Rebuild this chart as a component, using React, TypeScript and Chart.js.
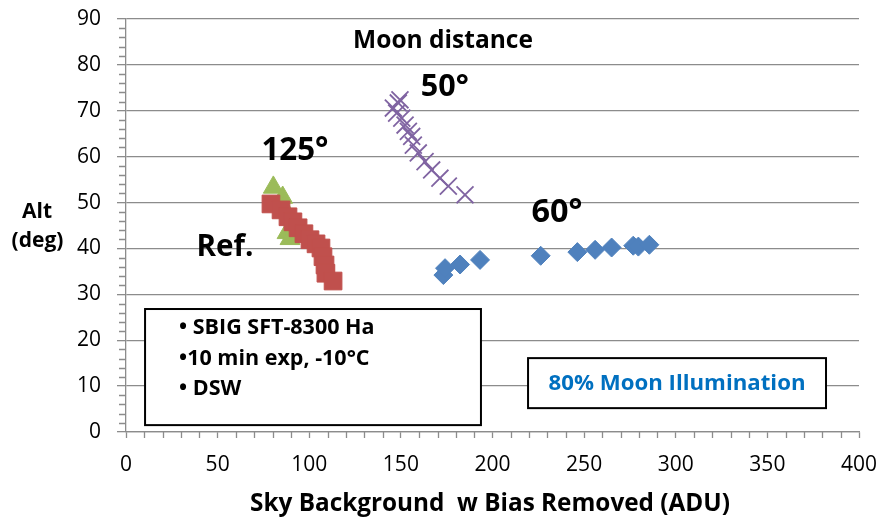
import React, { useEffect, useRef } from 'react';
import { Chart, registerables } from 'chart.js';

Chart.register(...registerables);

// ---- Data ----
const moon60X = [173.2, 174.1, 182.3, 193.2, 226.3, 246.3, 256.0, 265.0, 276.8, 279.6, 285.6];
const moon60Y = [34.2, 35.7, 36.5, 37.5, 38.4, 39.2, 39.7, 40.2, 40.6, 40.4, 40.8];

const moon50X = [185.0, 175.9, 171.3, 166.8, 163.2, 159.5, 156.8, 155.9, 154.1, 152.3, 150.5, 147.7, 145.9, 148.6, 149.5];
const moon50Y = [51.7, 53.6, 55.3, 57.1, 58.9, 60.8, 62.5, 64.4, 65.5, 66.9, 68.4, 69.5, 70.6, 71.7, 72.4];

const refX = [79.1, 84.6, 88.4, 91.1, 93.9, 97.1, 100.4, 103.7, 106.4, 107.5, 108.6, 109.1, 113.0];
const refY = [49.7, 48.4, 46.9, 45.8, 44.5, 43.2, 41.9, 41.0, 40.1, 38.2, 36.4, 34.6, 32.9];

const moon125X = [80.4, 85.5, 86.2, 87.9, 89.5];
const moon125Y = [53.3, 51.1, 48.9, 43.4, 42.1];

const xMin = 0, xMax = 400, xStep = 50, xMinorStep = 10;
const yMin = 0, yMax = 90, yStep = 10, yMinorStep = 2;

const xTitle = 'Sky Background  w Bias Removed (ADU)';
const yTitleLines = ['Alt', '(deg)'];

const notesLines = ['• SBIG SFT-8300 Ha', '•10 min exp, -10°C', '• DSW'];
const illumText = '80% Moon Illumination';

const FONT = '"Open Sans", Lato, sans-serif';
const GRID = '#8c8c8c';

const toPts = (xs: number[], ys: number[]) => xs.map((x, i) => ({ x, y: ys[i] }));

// set a bold font whose rendered width matches the target width
const fitFont = (ctx: CanvasRenderingContext2D, text: string, width: number, weight = 'bold') => {
  ctx.font = `${weight} 20px ${FONT}`;
  const w = ctx.measureText(text).width;
  const size = (20 * width) / w;
  ctx.font = `${weight} ${size.toFixed(2)}px ${FONT}`;
  return size;
};

const decor = {
  id: 'decor',
  beforeDatasetsDraw(chart: any) {
    const ctx = chart.ctx;
    const xs = chart.scales.x;
    const ys = chart.scales.y;
    const { left, bottom } = chart.chartArea;
    ctx.save();
    ctx.strokeStyle = GRID;
    ctx.lineWidth = 1.3;
    ctx.beginPath();
    for (let v = yMin; v <= yMax; v += yMinorStep) {
      if (v % yStep === 0) continue;
      const py = Math.round(ys.getPixelForValue(v)) + 0.5;
      ctx.moveTo(left - 7, py);
      ctx.lineTo(left, py);
    }
    for (let v = xMin; v <= xMax; v += xMinorStep) {
      if (v % xStep === 0) continue;
      const px = Math.round(xs.getPixelForValue(v)) + 0.5;
      ctx.moveTo(px, bottom);
      ctx.lineTo(px, bottom + 6);
    }
    ctx.stroke();

    const box = (x0: number, y0: number, x1: number, y1: number) => {
      const a = xs.getPixelForValue(x0), b = xs.getPixelForValue(x1);
      const c = ys.getPixelForValue(y0), d = ys.getPixelForValue(y1);
      ctx.fillStyle = '#ffffff';
      ctx.fillRect(a, c, b - a, d - c);
      ctx.strokeStyle = '#000000';
      ctx.lineWidth = 2;
      ctx.strokeRect(a, c, b - a, d - c);
      return { a, b, c, d };
    };
    const b1 = box(10.4, 26.8, 193.7, 1.5);
    ctx.fillStyle = '#000000';
    ctx.font = `bold 21.5px ${FONT}`;
    ctx.textAlign = 'left';
    ctx.textBaseline = 'middle';
    const lineYs = [328, 359, 389];
    notesLines.forEach((t, i) => ctx.fillText(t, b1.a + 34, lineYs[i]));

    const b2 = box(219.4, 16.1, 382, 5.2);
    ctx.fillStyle = '#0070C0';
    fitFont(ctx, illumText, 257);
    ctx.textAlign = 'center';
    ctx.fillText(illumText, (b2.a + b2.b) / 2, (b2.c + b2.d) / 2 + 1);
    ctx.restore();
  },
  afterDraw(chart: any) {
    const ctx = chart.ctx;
    const xs = chart.scales.x;
    const ys = chart.scales.y;
    ctx.save();
    ctx.fillStyle = '#000000';
    ctx.textAlign = 'center';
    ctx.textBaseline = 'middle';
    const label = (t: string, x: number, y: number, w: number) => {
      fitFont(ctx, t, w);
      ctx.fillText(t, xs.getPixelForValue(x), ys.getPixelForValue(y));
    };
    label('Moon distance', 173, 85.3, 180);
    label('50°', 174, 75.2, 48);
    label('125°', 92.2, 61.3, 67);
    label('60°', 235.2, 47.8, 51);
    label('Ref.', 54, 40.3, 57);

    ctx.font = `bold 21px ${FONT}`;
    ctx.fillText(yTitleLines[0], 37, 212);
    ctx.fillText(yTitleLines[1], 37.5, 241);
    fitFont(ctx, xTitle, 480);
    ctx.fillText(xTitle, 490, 504);
    ctx.restore();
  },
};

export default function App() {
  const ref = useRef<HTMLCanvasElement | null>(null);
  useEffect(() => {
    if (!ref.current) return;
    const chart = new Chart(ref.current, {
      type: 'scatter',
      data: {
        datasets: [
          {
            label: '60°',
            data: toPts(moon60X, moon60Y),
            pointStyle: 'rectRot',
            pointRadius: 9.5,
            backgroundColor: '#4F81BD',
            borderColor: '#4F81BD',
            borderWidth: 1,
          },
          {
            label: '50°',
            data: toPts(moon50X, moon50Y),
            pointStyle: 'crossRot',
            pointRadius: 12,
            backgroundColor: '#8064A2',
            borderColor: '#8064A2',
            borderWidth: 1.8,
          },
          {
            label: 'Ref.',
            data: toPts(refX, refY),
            pointStyle: 'rect',
            pointRadius: 12.5,
            backgroundColor: '#C0504D',
            borderColor: '#C0504D',
            borderWidth: 1,
          },
          {
            label: '125°',
            data: toPts(moon125X, moon125Y),
            pointStyle: 'triangle',
            pointRadius: 11.5,
            backgroundColor: '#9BBB59',
            borderColor: '#9BBB59',
            borderWidth: 1,
          },
        ],
      },
      options: {
        responsive: false,
        animation: false,
        events: [],
        layout: { padding: { top: 19, right: 22, left: 0, bottom: 0 } },
        plugins: { legend: { display: false }, tooltip: { enabled: false } },
        scales: {
          x: {
            type: 'linear',
            min: xMin,
            max: xMax,
            ticks: { stepSize: xStep, color: '#000', font: { family: FONT, size: 21 }, padding: 14, maxRotation: 0 },
            grid: { drawOnChartArea: false, drawTicks: true, tickLength: 6, tickColor: GRID, tickWidth: 1.3 },
            border: { color: GRID, width: 1.3 },
            afterFit: (s: any) => { s.height = 87; s.paddingLeft = 0; s.paddingRight = 0; },
          },
          y: {
            type: 'linear',
            min: yMin,
            max: yMax,
            ticks: { stepSize: yStep, color: '#000', font: { family: FONT, size: 21 }, padding: 16 },
            grid: { color: GRID, lineWidth: 1.3, drawTicks: true, tickLength: 9, tickColor: GRID, tickWidth: 1.3 },
            border: { color: GRID, width: 1.3 },
            afterFit: (s: any) => { s.width = 126; s.paddingTop = 0; s.paddingBottom = 0; },
          },
        },
      },
      plugins: [decor],
    } as any);
    return () => chart.destroy();
  }, []);
  return (
    <div style={{ position: 'fixed', left: 0, top: 0, width: 881, height: 519, background: '#fff' }}>
      <canvas ref={ref} width={881} height={519} style={{ display: 'block' }} />
    </div>
  );
}
